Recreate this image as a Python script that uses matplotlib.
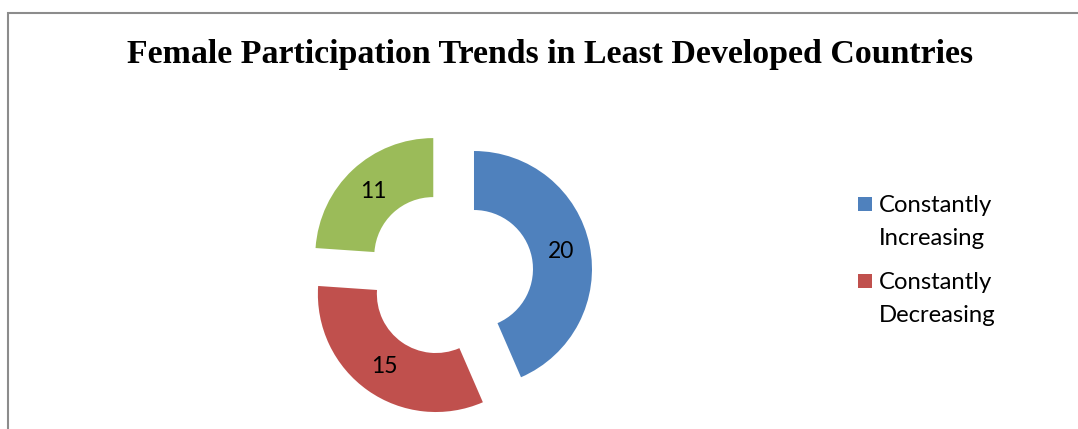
import matplotlib.pyplot as plt
from matplotlib.patches import Rectangle

# data for the doughnut
categories = ["Constantly\nIncreasing", "Constantly\nDecreasing", "Fluctuating"]
values = [20, 15, 11]
colors = ["#4f81bd", "#c0504d", "#9bbb59"]
title = "Female Participation Trends in Least Developed Countries"

W, H = 1078, 429
fig = plt.figure(figsize=(W / 100, H / 100), dpi=100)
ax = fig.add_axes([0, 0, 1, 1])

total = sum(values)
wedges, texts, autotexts = ax.pie(
    values,
    colors=colors,
    center=(450, H - 274),
    radius=118,
    startangle=90,
    counterclock=False,
    explode=[24.5] * len(values),
    wedgeprops=dict(width=59, linewidth=0),
    autopct=lambda p: f"{p * total / 100:.0f}",
    pctdistance=0.75,
    textprops=dict(family="Lato", fontsize=16.5, color="black"),
)

ax.set_xlim(0, W)
ax.set_ylim(0, H)
ax.set_aspect("equal")
ax.axis("off")

# chart area border (only top and left show)
ax.add_patch(Rectangle((7.5, -50), 1200, H - 12.5 + 50, fill=False,
                       edgecolor="#8c8c8c", linewidth=1.5))

ax.text(550, H - 63, title, ha="center", va="baseline",
        family="Liberation Serif", fontweight="bold", fontsize=24.4)

# legend, handle aligned with the first line of each label
for i, (lab, w) in enumerate(zip(categories[:2], wedges[:2])):
    y = H - 204 - i * 77
    ax.add_patch(Rectangle((858, y - 7), 14, 14, facecolor=w.get_facecolor(),
                           edgecolor="none"))
    for j, line in enumerate(lab.split("\n")):
        ax.text(879, y - 8 - j * 33, line, ha="left", va="baseline",
                family="Lato", fontsize=17.2)

fig.savefig("out.png", dpi=100)
